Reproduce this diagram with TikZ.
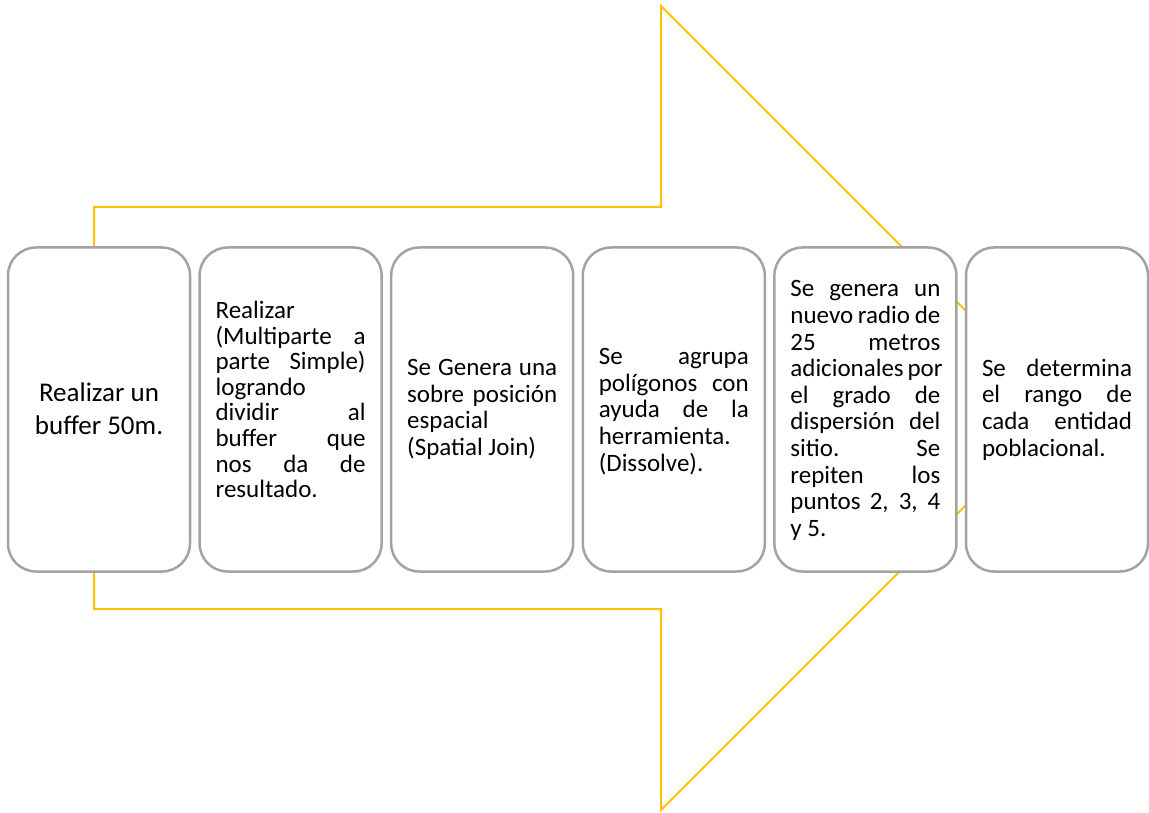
\documentclass[tikz,border=0pt]{standalone}
\usepackage{fontspec}
\setmainfont{Carlito}
\definecolor{arrowyellow}{HTML}{FFC000}
\definecolor{boxgray}{HTML}{A3A3A3}
\newcommand{\Jl}[1]{\makebox[150pt][s]{#1}}
\newcommand{\Ll}[1]{\makebox[150pt][l]{#1}}
\tikzset{
  stepbox/.style={draw=boxgray, line width=2.5pt, rounded corners=28pt, fill=white,
    minimum width=182pt, minimum height=324pt, inner sep=0pt},
  steptext/.style={inner sep=0pt, font=\fontsize{25}{26.6}\selectfont, align=left, text=black},
  bigarrow/.style={draw=arrowyellow, line width=2pt, line join=miter}
}
\begin{document}
\begin{tikzpicture}[x=1pt,y=-1pt]
\useasboundingbox (0,0) rectangle (1149,813);
% big arrow outline
\draw[bigarrow] (94,207) -- (661,207) -- (661,6) -- (1063,408) -- (661,810) -- (661,609) -- (94,609) -- cycle;
% boxes
\node[stepbox] (b1) at (99,409.5) {};
\node[stepbox] (b2) at (290.6,409.5) {};
\node[stepbox] (b3) at (482.2,409.5) {};
\node[stepbox] (b4) at (673.8,409.5) {};
\node[stepbox] (b5) at (865.4,409.5) {};
\node[stepbox] (b6) at (1057,409.5) {};
% texts
\node[steptext, align=center, font=\fontsize{27}{33}\selectfont, yshift=1pt] (t1) at (b1.center) {Realizar un\\buffer 50m.};
\node[steptext, font=\fontsize{25}{25.6}\selectfont, yshift=10pt] (t2) at (b2.center) {\Ll{Realizar}\\\Jl{(Multiparte a}\\\Jl{parte Simple)}\\\Ll{logrando}\\\Jl{dividir al}\\\Jl{buffer que}\\\Jl{nos da de}\\\Ll{resultado.}};
\node[steptext, yshift=0pt] (t3) at (b3.center) {\Jl{Se Genera una}\\\Jl{sobre posición}\\\Ll{espacial}\\\Ll{(Spatial Join)}};
\node[steptext, yshift=-2pt] (t4) at (b4.center) {\Jl{Se agrupa}\\\Jl{polígonos con}\\\Jl{ayuda de la}\\\Ll{herramienta.}\\\Ll{(Dissolve).}};
\node[steptext, yshift=-1pt] (t5) at (b5.center) {\Jl{Se genera un}\\\Jl{nuevo radio de}\\\Jl{25 metros}\\\Jl{adicionales por}\\\Jl{el grado de}\\\Jl{dispersión del}\\\Jl{sitio. Se}\\\Jl{repiten los}\\\Jl{puntos 2, 3, 4}\\\Ll{y 5.}};
\node[steptext] (t6) at (b6.center) {\Jl{Se determina}\\\Jl{el rango de}\\\Jl{cada entidad}\\\Ll{poblacional.}};
\end{tikzpicture}
\end{document}
